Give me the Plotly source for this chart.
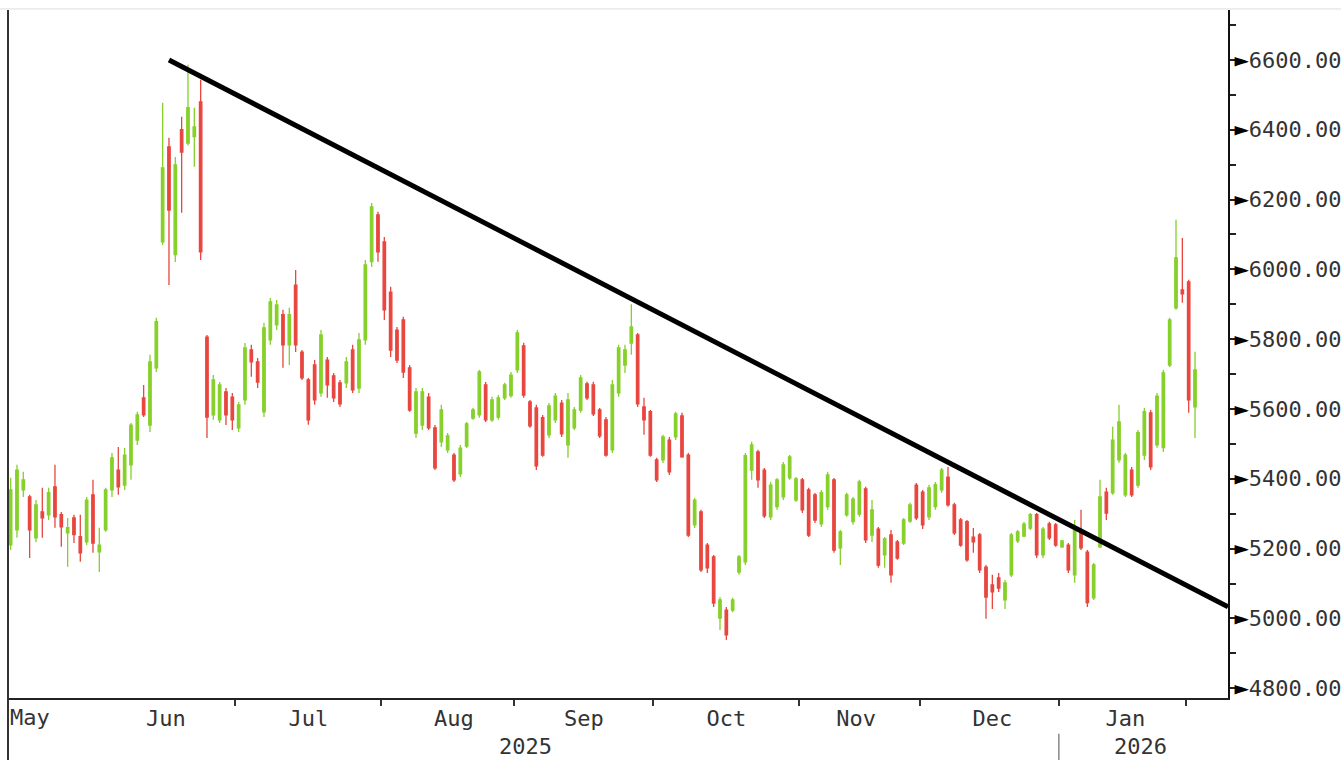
import pandas as pd
import plotly.graph_objects as go

# ---------------- data ----------------
HOLIDAYS = ["2025-11-27", "2025-12-25", "2026-01-01", "2026-01-19"]
FIRST_DAY = "2025-05-12"
LAST_DAY = "2026-02-03"

OPEN = [5211, 5254, 5368, 5348, 5231, 5305, 5297, 5377, 5297, 5245,
        5288, 5234, 5219, 5354, 5191, 5254, 5368, 5425, 5382, 5440,
        5511, 5632, 5554, 5718, 6079, 6351, 6042, 6400, 6362, 6380,
        6480, 5806, 5583, 5569, 5649, 5634, 5546, 5626, 5769, 5735,
        5592, 5798, 5841, 5870, 5784, 5955, 5763, 5683, 5726, 5646,
        5740, 5695, 5675, 5675, 5769, 5660, 5798, 6022, 6156, 6079,
        5935, 5826, 5855, 5718, 5531, 5554, 5634, 5546, 5506, 5483,
        5468, 5414, 5494, 5574, 5583, 5669, 5569, 5577, 5632, 5638,
        5712, 5781, 5620, 5603, 5575, 5526, 5569, 5617, 5497, 5546,
        5597, 5672, 5669, 5597, 5569, 5483, 5646, 5726, 5789, 5812,
        5606, 5592, 5454, 5454, 5511, 5520, 5580, 5468, 5268, 5305,
        5210, 5176, 5001, 5024, 5024, 5133, 5162, 5425, 5477, 5425,
        5291, 5320, 5348, 5403, 5339, 5397, 5368, 5354, 5271, 5320,
        5397, 5202, 5297, 5277, 5299, 5371, 5239, 5256, 5182, 5239,
        5219, 5216, 5279, 5382, 5362, 5291, 5320, 5368, 5405, 5325,
        5282, 5277, 5233, 5239, 5147, 5096, 5116, 5053, 5125, 5222,
        5236, 5259, 5297, 5182, 5271, 5268, 5205, 5210, 5125, 5253,
        5190, 5059, 5205, 5362, 5360, 5454, 5354, 5425, 5382, 5468,
        5589, 5497, 5489, 5726, 5890, 5941, 5964, 5606]
HIGH = [5403, 5440, 5420, 5354, 5339, 5374, 5374, 5440, 5305, 5288,
        5297, 5297, 5348, 5397, 5260, 5374, 5474, 5491, 5488, 5560,
        5592, 5669, 5755, 5861, 6477, 6377, 6322, 6437, 6586, 6463,
        6543, 5812, 5697, 5677, 5660, 5646, 5620, 5789, 5784, 5746,
        5846, 5918, 5912, 5884, 5890, 5998, 5769, 5689, 5740, 5826,
        5749, 5703, 5683, 5749, 5784, 5818, 6027, 6190, 6165, 6093,
        5950, 5835, 5864, 5726, 5660, 5660, 5646, 5554, 5612, 5531,
        5474, 5497, 5563, 5603, 5712, 5677, 5635, 5640, 5675, 5706,
        5826, 5790, 5626, 5612, 5583, 5617, 5646, 5626, 5646, 5606,
        5697, 5678, 5678, 5603, 5577, 5683, 5784, 5784, 5900, 5818,
        5632, 5597, 5460, 5526, 5520, 5592, 5589, 5474, 5345, 5311,
        5216, 5182, 5061, 5033, 5059, 5182, 5474, 5506, 5483, 5431,
        5391, 5402, 5448, 5468, 5405, 5402, 5374, 5359, 5368, 5420,
        5402, 5253, 5360, 5348, 5397, 5377, 5339, 5262, 5233, 5253,
        5225, 5288, 5331, 5388, 5368, 5383, 5391, 5431, 5434, 5331,
        5288, 5282, 5259, 5245, 5153, 5125, 5130, 5110, 5245, 5253,
        5276, 5302, 5302, 5262, 5277, 5273, 5225, 5216, 5282, 5311,
        5196, 5159, 5397, 5374, 5549, 5612, 5474, 5434, 5540, 5603,
        5597, 5646, 5712, 5861, 6142, 6090, 5970, 5764]
LOW = [5196, 5231, 5348, 5173, 5219, 5231, 5282, 5260, 5205, 5148,
       5216, 5162, 5210, 5188, 5133, 5248, 5348, 5354, 5368, 5397,
       5497, 5577, 5534, 5706, 6070, 5955, 6021, 6162, 6355, 6294,
       6027, 5517, 5569, 5560, 5554, 5540, 5534, 5612, 5692, 5660,
       5577, 5784, 5826, 5718, 5726, 5763, 5683, 5555, 5612, 5635,
       5632, 5620, 5606, 5660, 5646, 5646, 5784, 6007, 6022, 5855,
       5749, 5732, 5689, 5592, 5517, 5540, 5540, 5425, 5491, 5474,
       5391, 5405, 5488, 5569, 5575, 5563, 5563, 5569, 5626, 5632,
       5703, 5632, 5546, 5425, 5463, 5517, 5560, 5520, 5460, 5540,
       5589, 5626, 5580, 5517, 5463, 5474, 5635, 5703, 5755, 5606,
       5526, 5463, 5391, 5445, 5411, 5511, 5460, 5233, 5259, 5133,
       5130, 5033, 4967, 4938, 5018, 5125, 5153, 5397, 5374, 5288,
       5282, 5311, 5339, 5397, 5334, 5302, 5233, 5273, 5262, 5311,
       5188, 5153, 5291, 5268, 5291, 5216, 5219, 5145, 5145, 5102,
       5168, 5210, 5274, 5282, 5256, 5282, 5311, 5360, 5320, 5239,
       5205, 5162, 5188, 5130, 4999, 5027, 5076, 5027, 5119, 5216,
       5233, 5253, 5173, 5173, 5225, 5205, 5202, 5130, 5102, 5196,
       5033, 5053, 5202, 5282, 5354, 5446, 5348, 5348, 5374, 5454,
       5425, 5489, 5477, 5720, 5884, 5904, 5589, 5517]
CLOSE = [5368, 5425, 5397, 5254, 5325, 5288, 5360, 5291, 5262, 5260,
         5240, 5188, 5339, 5216, 5210, 5368, 5460, 5377, 5468, 5554,
         5583, 5583, 5735, 5850, 6291, 6170, 6299, 6336, 6463, 6408,
         6050, 5577, 5683, 5669, 5583, 5569, 5612, 5775, 5735, 5677,
         5832, 5907, 5898, 5784, 5870, 5784, 5689, 5569, 5626, 5812,
         5669, 5632, 5615, 5735, 5655, 5798, 6013, 6179, 6050, 5884,
         5769, 5740, 5706, 5597, 5649, 5649, 5546, 5431, 5597, 5523,
         5397, 5488, 5557, 5597, 5706, 5569, 5626, 5632, 5669, 5697,
         5818, 5640, 5552, 5437, 5468, 5609, 5637, 5529, 5626, 5597,
         5689, 5632, 5586, 5523, 5468, 5669, 5775, 5769, 5835, 5615,
         5569, 5468, 5397, 5520, 5420, 5586, 5463, 5239, 5339, 5139,
         5145, 5044, 5053, 4953, 5053, 5176, 5466, 5497, 5397, 5294,
         5382, 5397, 5440, 5463, 5400, 5311, 5239, 5282, 5360, 5411,
         5196, 5248, 5354, 5342, 5391, 5225, 5311, 5153, 5228, 5125,
         5173, 5282, 5325, 5288, 5268, 5374, 5383, 5425, 5325, 5245,
         5210, 5168, 5219, 5139, 5061, 5076, 5087, 5102, 5239, 5248,
         5270, 5297, 5182, 5256, 5231, 5210, 5222, 5139, 5253, 5202,
         5045, 5153, 5348, 5302, 5511, 5563, 5468, 5354, 5532, 5592,
         5434, 5637, 5703, 5855, 6033, 5930, 5626, 5712]

# drawn resistance line (two anchor points)
TREND_DATES = ["2025-06-16 12:00", "2026-02-10 17:00"]
TREND_VALUES = [6600, 5033]

Y_TICKS = [4800, 5000, 5200, 5400, 5600, 5800, 6000, 6200, 6400, 6600]
Y_TICK_TEXT = ["<span style='color:#000000;font-size:24px'>\u25ba</span>%.2f" % v
               for v in Y_TICKS]
FIRST_MONTH_LABEL = "May"
YEAR_LABELS = ["2025", "2026"]

# ---------------- styling ----------------
GREEN = "#86d02a"
RED = "#e8463f"
FONT = "DejaVu Sans Mono"
TXT = "#333333"

days = pd.bdate_range(FIRST_DAY, LAST_DAY, freq="C", holidays=HOLIDAYS)
dates = days + pd.Timedelta(hours=12)
n = min(len(dates), len(OPEN))

fig = go.Figure()
fig.add_trace(go.Candlestick(
    x=dates[:n], open=OPEN[:n], high=HIGH[:n], low=LOW[:n], close=CLOSE[:n],
    increasing=dict(line=dict(color=GREEN, width=1.3), fillcolor=GREEN),
    decreasing=dict(line=dict(color=RED, width=1.3), fillcolor=RED),
    whiskerwidth=0, showlegend=False, hoverinfo="skip",
))
fig.add_trace(go.Scatter(
    x=TREND_DATES, y=TREND_VALUES, mode="lines",
    line=dict(color="black", width=5), showlegend=False, hoverinfo="skip",
))

fig.update_layout(
    width=1341, height=760,
    margin=dict(l=8, r=113, t=10, b=62, autoexpand=False),
    paper_bgcolor="white", plot_bgcolor="white",
    boxgap=0.45,
    showlegend=False,
    font=dict(family=FONT, size=22, color=TXT),
    xaxis=dict(
        type="date",
        automargin=False,
        range=["2025-05-12 02:00", "2026-02-10 17:00"],
        rangebreaks=[dict(bounds=["sat", "mon"]), dict(values=HOLIDAYS)],
        rangeslider=dict(visible=False),
        dtick="M1", tick0="2025-05-01", tickformat="%b",
        ticklabelmode="period",
        ticks="outside", ticklen=6, tickwidth=1.5, tickcolor="#333",
        ticklabelstandoff=-6,
        showline=True, linecolor="#222", linewidth=2,
        showgrid=False, zeroline=False,
        tickfont=dict(family=FONT, size=22, color=TXT),
    ),
    yaxis=dict(
        side="right",
        automargin=False,
        range=[4772, 6743],
        tickmode="array", tickvals=Y_TICKS, ticktext=Y_TICK_TEXT,
        ticks="",
        minor=dict(ticks="outside", ticklen=6, tickwidth=1.5,
                   tickcolor="#222", dtick=100, tick0=4800),
        showline=True, linecolor="#111", linewidth=2,
        showgrid=False, zeroline=False,
        tickfont=dict(family=FONT, size=22, color=TXT),
    ),
)

# partial first month label (its period centre lies left of the view)
fig.add_annotation(text=FIRST_MONTH_LABEL, xref="paper", yref="paper",
                   x=0.0, y=-0.0290, showarrow=False,
                   font=dict(family=FONT, size=22, color=TXT),
                   xanchor="left", yanchor="middle")
# year row beneath the month labels
fig.add_annotation(text=YEAR_LABELS[0], xref="paper", yref="paper",
                   x=0.4238, y=-0.0698, showarrow=False,
                   font=dict(family=FONT, size=22, color=TXT),
                   xanchor="center", yanchor="middle")
fig.add_annotation(text=YEAR_LABELS[1], xref="paper", yref="paper",
                   x=0.9279, y=-0.0698, showarrow=False,
                   font=dict(family=FONT, size=22, color=TXT),
                   xanchor="center", yanchor="middle")
# year separator
fig.add_shape(type="line", xref="x", yref="paper",
              x0="2025-12-31 23:59", x1="2025-12-31 23:59", y0=-0.052, y1=-0.092,
              line=dict(color="#888", width=1.5))
# left frame line and light top rule
fig.add_shape(type="line", xref="paper", yref="paper",
              x0=0, x1=0, y0=-0.092, y1=1.0,
              line=dict(color="#333", width=2))
fig.add_shape(type="line", xref="paper", yref="paper",
              x0=-0.0066, x1=1.093, y0=1.0015, y1=1.0015,
              line=dict(color="#dddddd", width=1))

fig.write_html("out.html", config={"displayModeBar": False},
               post_script="document.body.style.margin='0px';")
